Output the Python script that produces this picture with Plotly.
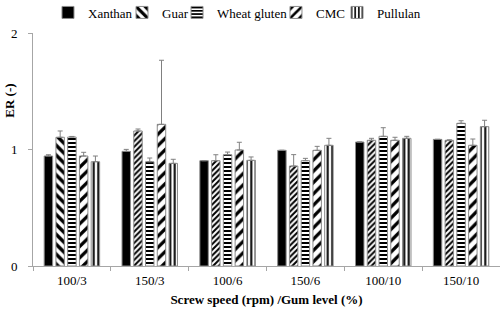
import plotly.graph_objects as go

categories = ["100/3", "150/3", "100/6", "150/6", "100/10", "150/10"]
series_names = ["Xanthan", "Guar", "Wheat gluten", "CMC", "Pullulan"]

xanthan = [0.944, 0.984, 0.904, 0.993, 1.064, 1.087]
guar = [1.105, 1.159, 0.904, 0.858, 1.079, 1.079]
wheat_gluten = [1.107, 0.895, 0.955, 0.904, 1.113, 1.225]
cmc = [0.944, 1.216, 0.996, 0.993, 1.079, 1.036]
pullulan = [0.895, 0.881, 0.907, 1.036, 1.096, 1.196]

xanthan_err = [0.011, 0.017, 0.0, 0.0, 0.0, 0.0]
guar_err = [0.054, 0.017, 0.051, 0.098, 0.017, 0.004]
wheat_gluten_err = [0.005, 0.032, 0.023, 0.020, 0.074, 0.022]
cmc_err = [0.032, 0.550, 0.066, 0.034, 0.026, 0.054]
pullulan_err = [0.049, 0.035, 0.029, 0.060, 0.017, 0.055]

values = [xanthan, guar, wheat_gluten, cmc, pullulan]
errors = [xanthan_err, guar_err, wheat_gluten_err, cmc_err, pullulan_err]

patterns = [
    dict(shape=""),
    dict(shape=["\\", "/", "/", "/", "/", "/"], size=[7, 4, 4, 4, 4, 4], solidity=0.5,
         fgcolor="black", bgcolor="white", fgopacity=1),
    dict(shape="-", size=4, solidity=0.5, fgcolor="black", bgcolor="white", fgopacity=1),
    dict(shape="/", size=8, solidity=0.4, fgcolor="black", bgcolor="white", fgopacity=1),
    dict(shape="|", size=4.5, solidity=0.45, fgcolor="black", bgcolor="white", fgopacity=1),
]
colors = ["black", "white", "white", "white", "white"]
legend_ids = ["legend", "legend2", "legend3", "legend4", "legend5"]
legend_x = [0.0321, 0.1906, 0.3084, 0.5203, 0.6510]

font = "Liberation Serif, Times New Roman, serif"
fs = 13

fig = go.Figure()
for name, vals, errs, pat, col, lid in zip(series_names, values, errors, patterns, colors, legend_ids):
    fig.add_trace(go.Bar(
        name=name, x=categories, y=vals, legend=lid,
        marker=dict(color=col, pattern=pat, line=dict(color="#8c8c8c", width=1)),
        error_y=dict(type="data", array=errs, arrayminus=[0] * len(errs), symmetric=False,
                     color="#808080", thickness=1, width=2.5),
    ))

legend_layout = {}
for lid, lx in zip(legend_ids, legend_x):
    legend_layout[lid] = dict(orientation="h", x=lx, xanchor="left", y=1.088, yanchor="middle",
                              font=dict(family=font, size=fs), itemwidth=30,
                              bgcolor="rgba(0,0,0,0)")

fig.update_layout(
    width=500, height=310,
    barmode="group", bargap=0.245, bargroupgap=0.28,
    plot_bgcolor="white", paper_bgcolor="white",
    margin=dict(l=33, r=0, t=33, b=44, autoexpand=False),
    font=dict(family=font, size=fs, color="black"),
    showlegend=True,
    xaxis=dict(
        showline=True, linecolor="#a6a6a6", linewidth=1, automargin=False,
        ticks="outside", tickson="boundaries", ticklen=4, tickcolor="#a6a6a6",
        range=[-0.5, 5.5],
        title=dict(text="<b>Screw speed (rpm) /Gum level (%)</b>", font=dict(size=fs), standoff=8),
        tickfont=dict(size=fs), ticklabelstandoff=2,
    ),
    yaxis=dict(
        range=[0, 2], tickvals=[0, 1, 2], showgrid=False, zeroline=False, automargin=False,
        showline=True, linecolor="#a6a6a6", linewidth=1,
        ticks="outside", ticklen=4, tickcolor="#a6a6a6",
        tickfont=dict(size=fs), ticklabelstandoff=8,
    ),
    annotations=[dict(text="<b>ER (-)</b>", textangle=-90, xref="paper", yref="paper",
                      x=-0.051, y=0.71, xanchor="center", yanchor="middle", showarrow=False,
                      font=dict(family=font, size=fs))],
    **legend_layout,
)
fig.write_html("out.html", post_script="document.body.style.margin='0';",
               config={"displayModeBar": False})
